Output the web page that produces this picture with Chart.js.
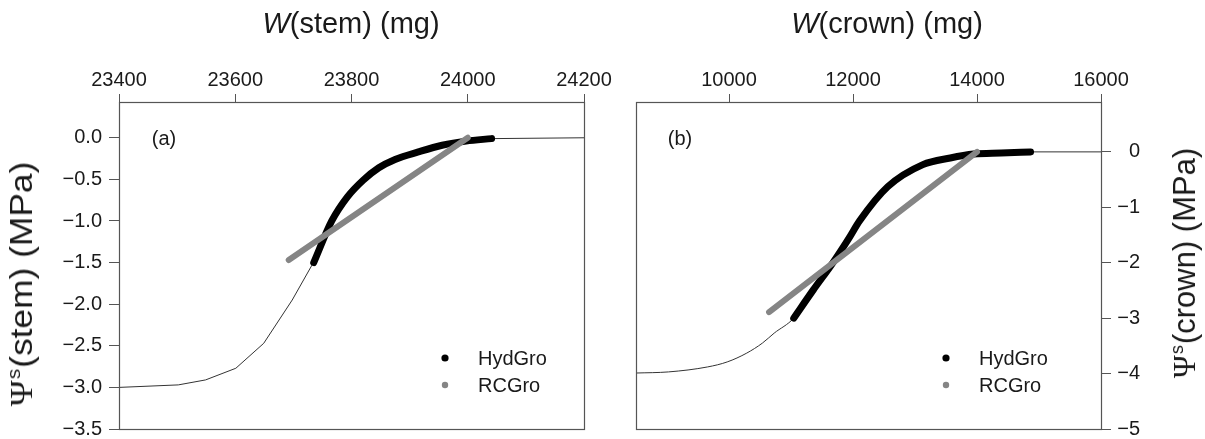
<!DOCTYPE html>
<html>
<head>
<meta charset="utf-8">
<script src="https://cdn.jsdelivr.net/npm/chart.js@4.4.1/dist/chart.umd.min.js"></script>
<style>
  html, body { margin: 0; padding: 0; background: #fff; }
  #page { position: relative; width: 1205px; height: 439px; overflow: hidden;
          font-family: "Liberation Sans", Arial, Helvetica, sans-serif; color: #1a1a1a; }
  #page canvas { position: absolute; top: 0; }
  .xtitle { position: absolute; top: 9px; width: 300px; margin-left: -150px; text-align: center;
            font-size: 29px; line-height: 29px; white-space: nowrap; }
  .ytitle { position: absolute; font-size: 31px; line-height: 31px; white-space: nowrap;
            transform: translate(-50%, -50%) rotate(-90deg); }
  .ytitle.long { transform: translate(-50%, -50%) rotate(-90deg) scaleX(1.14); }
  .psi { font-family: "Liberation Serif", "Times New Roman", serif; }
  .ytitle sup { font-size: 18px; vertical-align: 0; position: relative; top: -12px; margin: 0 1px; }
</style>
</head>
<body>
<div id="page">
  <canvas id="stemChart" width="620" height="439" style="left:0"></canvas>
  <canvas id="crownChart" width="615" height="439" style="left:590px"></canvas>
  <div class="xtitle" style="left:351px"><i>W</i>(stem) (mg)</div>
  <div class="xtitle" style="left:887px"><i>W</i>(crown) (mg)</div>
  <div class="ytitle long" style="left:24px; top:284px"><span class="psi">Ψ</span><sup>s</sup>(stem) (MPa)</div>
  <div class="ytitle" style="left:1187px; top:263px"><span class="psi">Ψ</span><sup>s</sup>(crown) (MPa)</div>
</div>
<script>
// (a) stem: fresh weight (mg) vs osmotic potential (MPa)
const stemModelW   = [23400, 23502, 23549, 23601, 23649, 23698, 23732, 23766, 23793, 23820, 23847, 23875, 23915, 23956, 23997, 24041, 24200];
const stemModelPsi = [-3.00, -2.97, -2.91, -2.77, -2.47, -1.95, -1.53, -1.00, -0.71, -0.51, -0.36, -0.26, -0.17, -0.09, -0.04, -0.01, 0.00];
const stemHydW     = [23735, 23766, 23793, 23820, 23847, 23875, 23915, 23956, 23997, 24041];
const stemHydPsi   = [-1.50, -1.00, -0.71, -0.51, -0.36, -0.26, -0.17, -0.09, -0.04, -0.01];
const stemRcW      = [23692, 24000];
const stemRcPsi    = [-1.47, 0.00];
const stemTicksX   = [23400, 23600, 23800, 24000, 24200];
const stemTicksY   = [-3.5, -3.0, -2.5, -2.0, -1.5, -1.0, -0.5, 0.0];

// (b) crown
const crownModelW   = [8500, 9024, 9655, 9971, 10287, 10539, 10729, 11044, 11360, 11676, 11928, 12110, 12559, 13127, 13569, 13948, 14390, 14864, 16000];
const crownModelPsi = [-3.99, -3.97, -3.88, -3.79, -3.63, -3.45, -3.27, -3.00, -2.49, -2.00, -1.57, -1.24, -0.63, -0.23, -0.11, -0.04, -0.02, 0.00, 0.00];
const crownHydW     = [11044, 11360, 11676, 11928, 12110, 12559, 13127, 13569, 13948, 14390, 14864];
const crownHydPsi   = [-3.00, -2.49, -2.00, -1.57, -1.24, -0.63, -0.23, -0.11, -0.04, -0.02, 0.00];
const crownRcW      = [10646, 14000];
const crownRcPsi    = [-2.89, 0.00];
const crownTicksX   = [10000, 12000, 14000, 16000];
const crownTicksY   = [-5, -4, -3, -2, -1, 0];

const FONT = '"Liberation Sans", Arial, Helvetica, sans-serif';
const AXIS_COLOR = '#555';

Chart.defaults.font.family = FONT;
Chart.defaults.font.size = 20;
Chart.defaults.color = '#1a1a1a';

const toPoints = (xs, ys) => xs.map((x, i) => ({ x: x, y: ys[i] }));
const minus = (v, digits) => (v < 0 ? '\u2212' : '') + Math.abs(v).toFixed(digits);

// box around the plot area, panel tag and the series key inside it
const panelDecor = {
  id: 'panelDecor',
  afterDatasetsDraw(chart, args, opts) {
    const { ctx, chartArea: a } = chart;
    ctx.save();
    ctx.strokeStyle = AXIS_COLOR;
    ctx.lineWidth = 1.2;
    const l = Math.round(a.left) + 0.5, t = Math.round(a.top) + 0.5;
    const r = Math.round(a.right) + 0.5, b = Math.round(a.bottom) + 0.5;
    ctx.strokeRect(l, t, r - l, b - t);

    ctx.fillStyle = '#1a1a1a';
    ctx.font = '20px ' + FONT;
    ctx.textAlign = 'center';
    ctx.textBaseline = 'middle';
    ctx.fillText(opts.tag, a.left + opts.tagX, a.top + opts.tagY);

    ctx.textAlign = 'left';
    const keyed = chart.data.datasets.filter(d => d.label);
    keyed.forEach((d, i) => {
      const x = a.right - opts.keyRight;
      const y = a.bottom - opts.keyBottom + i * 27;
      ctx.fillStyle = d.borderColor;
      ctx.beginPath();
      ctx.arc(x, y, d.keyRadius, 0, Math.PI * 2);
      ctx.fill();
      ctx.fillStyle = '#1a1a1a';
      ctx.fillText(d.label, x + 33, y + 1);
    });
    ctx.restore();
  }
};

const makePanel = (canvasId, p) => {
  const ctx = document.getElementById(canvasId).getContext('2d');
  return new Chart(ctx, {
    type: 'scatter',
    data: {
      datasets: [
        {
          label: 'HydGro',
          data: toPoints(p.hydW, p.hydPsi),
          showLine: true,
          borderColor: '#000',
          borderWidth: 7,
          borderCapStyle: 'round',
          borderJoinStyle: 'round',
          cubicInterpolationMode: 'monotone',
          pointRadius: 0,
          keyRadius: 3.6,
          order: 1,
        },
        {
          label: 'RCGro',
          data: toPoints(p.rcW, p.rcPsi),
          showLine: true,
          borderColor: '#858585',
          borderWidth: 6,
          borderCapStyle: 'round',
          pointRadius: 0,
          keyRadius: 3.2,
          order: 0,
        },
        {
          data: toPoints(p.modelW, p.modelPsi),
          showLine: true,
          borderColor: '#333',
          borderWidth: 1,
          cubicInterpolationMode: p.smoothModel ? 'monotone' : 'default',
          tension: 0,
          pointRadius: 0,
          order: 2,
        },
      ],
    },
    options: {
      responsive: false,
      devicePixelRatio: 1,
      animation: false,
      events: [],
      layout: { padding: p.padding },
      scales: {
        x: {
          type: 'linear',
          position: 'top',
          min: p.xMin,
          max: p.xMax,
          afterBuildTicks: axis => { axis.ticks = p.ticksX.map(v => ({ value: v })); },
          afterFit: s => { s.height = 102; s.paddingLeft = 0; s.paddingRight = 0; },
          ticks: { padding: 2, maxRotation: 0, autoSkip: false, callback: v => String(v) },
          grid: { drawOnChartArea: false, drawTicks: true, tickLength: 8, color: AXIS_COLOR, lineWidth: 1 },
          border: { display: false },
        },
        y: {
          type: 'linear',
          position: p.yPos,
          min: p.yMin,
          max: p.yMax,
          afterBuildTicks: axis => { axis.ticks = p.ticksY.map(v => ({ value: v })); },
          afterFit: s => { s.width = p.yWidth; s.paddingTop = 0; s.paddingBottom = 0; },
          ticks: { padding: p.yPad, crossAlign: p.yAlign, autoSkip: false, callback: v => minus(v, p.yDigits) },
          grid: { drawOnChartArea: false, drawTicks: true, tickLength: 10, color: AXIS_COLOR, lineWidth: 1 },
          border: { display: false },
        },
      },
      plugins: {
        legend: { display: false },
        tooltip: { enabled: false },
        panelDecor: p.decor,
      },
    },
    plugins: [panelDecor],
  });
};

makePanel('stemChart', {
  modelW: stemModelW, modelPsi: stemModelPsi,
  hydW: stemHydW, hydPsi: stemHydPsi,
  rcW: stemRcW, rcPsi: stemRcPsi,
  ticksX: stemTicksX, ticksY: stemTicksY,
  xMin: 23400, xMax: 24200, yMin: -3.5, yMax: 0.43,
  yPos: 'left', yWidth: 119, yPad: 7, yAlign: 'near', yDigits: 1,
  smoothModel: false,
  padding: { left: 0, top: 0, right: 36, bottom: 10 },
  decor: { tag: '(a)', tagX: 45, tagY: 37, keyRight: 139, keyBottom: 71 },
});

makePanel('crownChart', {
  modelW: crownModelW, modelPsi: crownModelPsi,
  hydW: crownHydW, hydPsi: crownHydPsi,
  rcW: crownRcW, rcPsi: crownRcPsi,
  ticksX: crownTicksX, ticksY: crownTicksY,
  xMin: 8500, xMax: 16000, yMin: -5, yMax: 0.9,
  yPos: 'right', yWidth: 39, yPad: 3, yAlign: 'far', yDigits: 0,
  smoothModel: true,
  padding: { left: 46, top: 0, right: 65, bottom: 10 },
  decor: { tag: '(b)', tagX: 44, tagY: 37, keyRight: 155, keyBottom: 71 },
});
</script>
</body>
</html>
